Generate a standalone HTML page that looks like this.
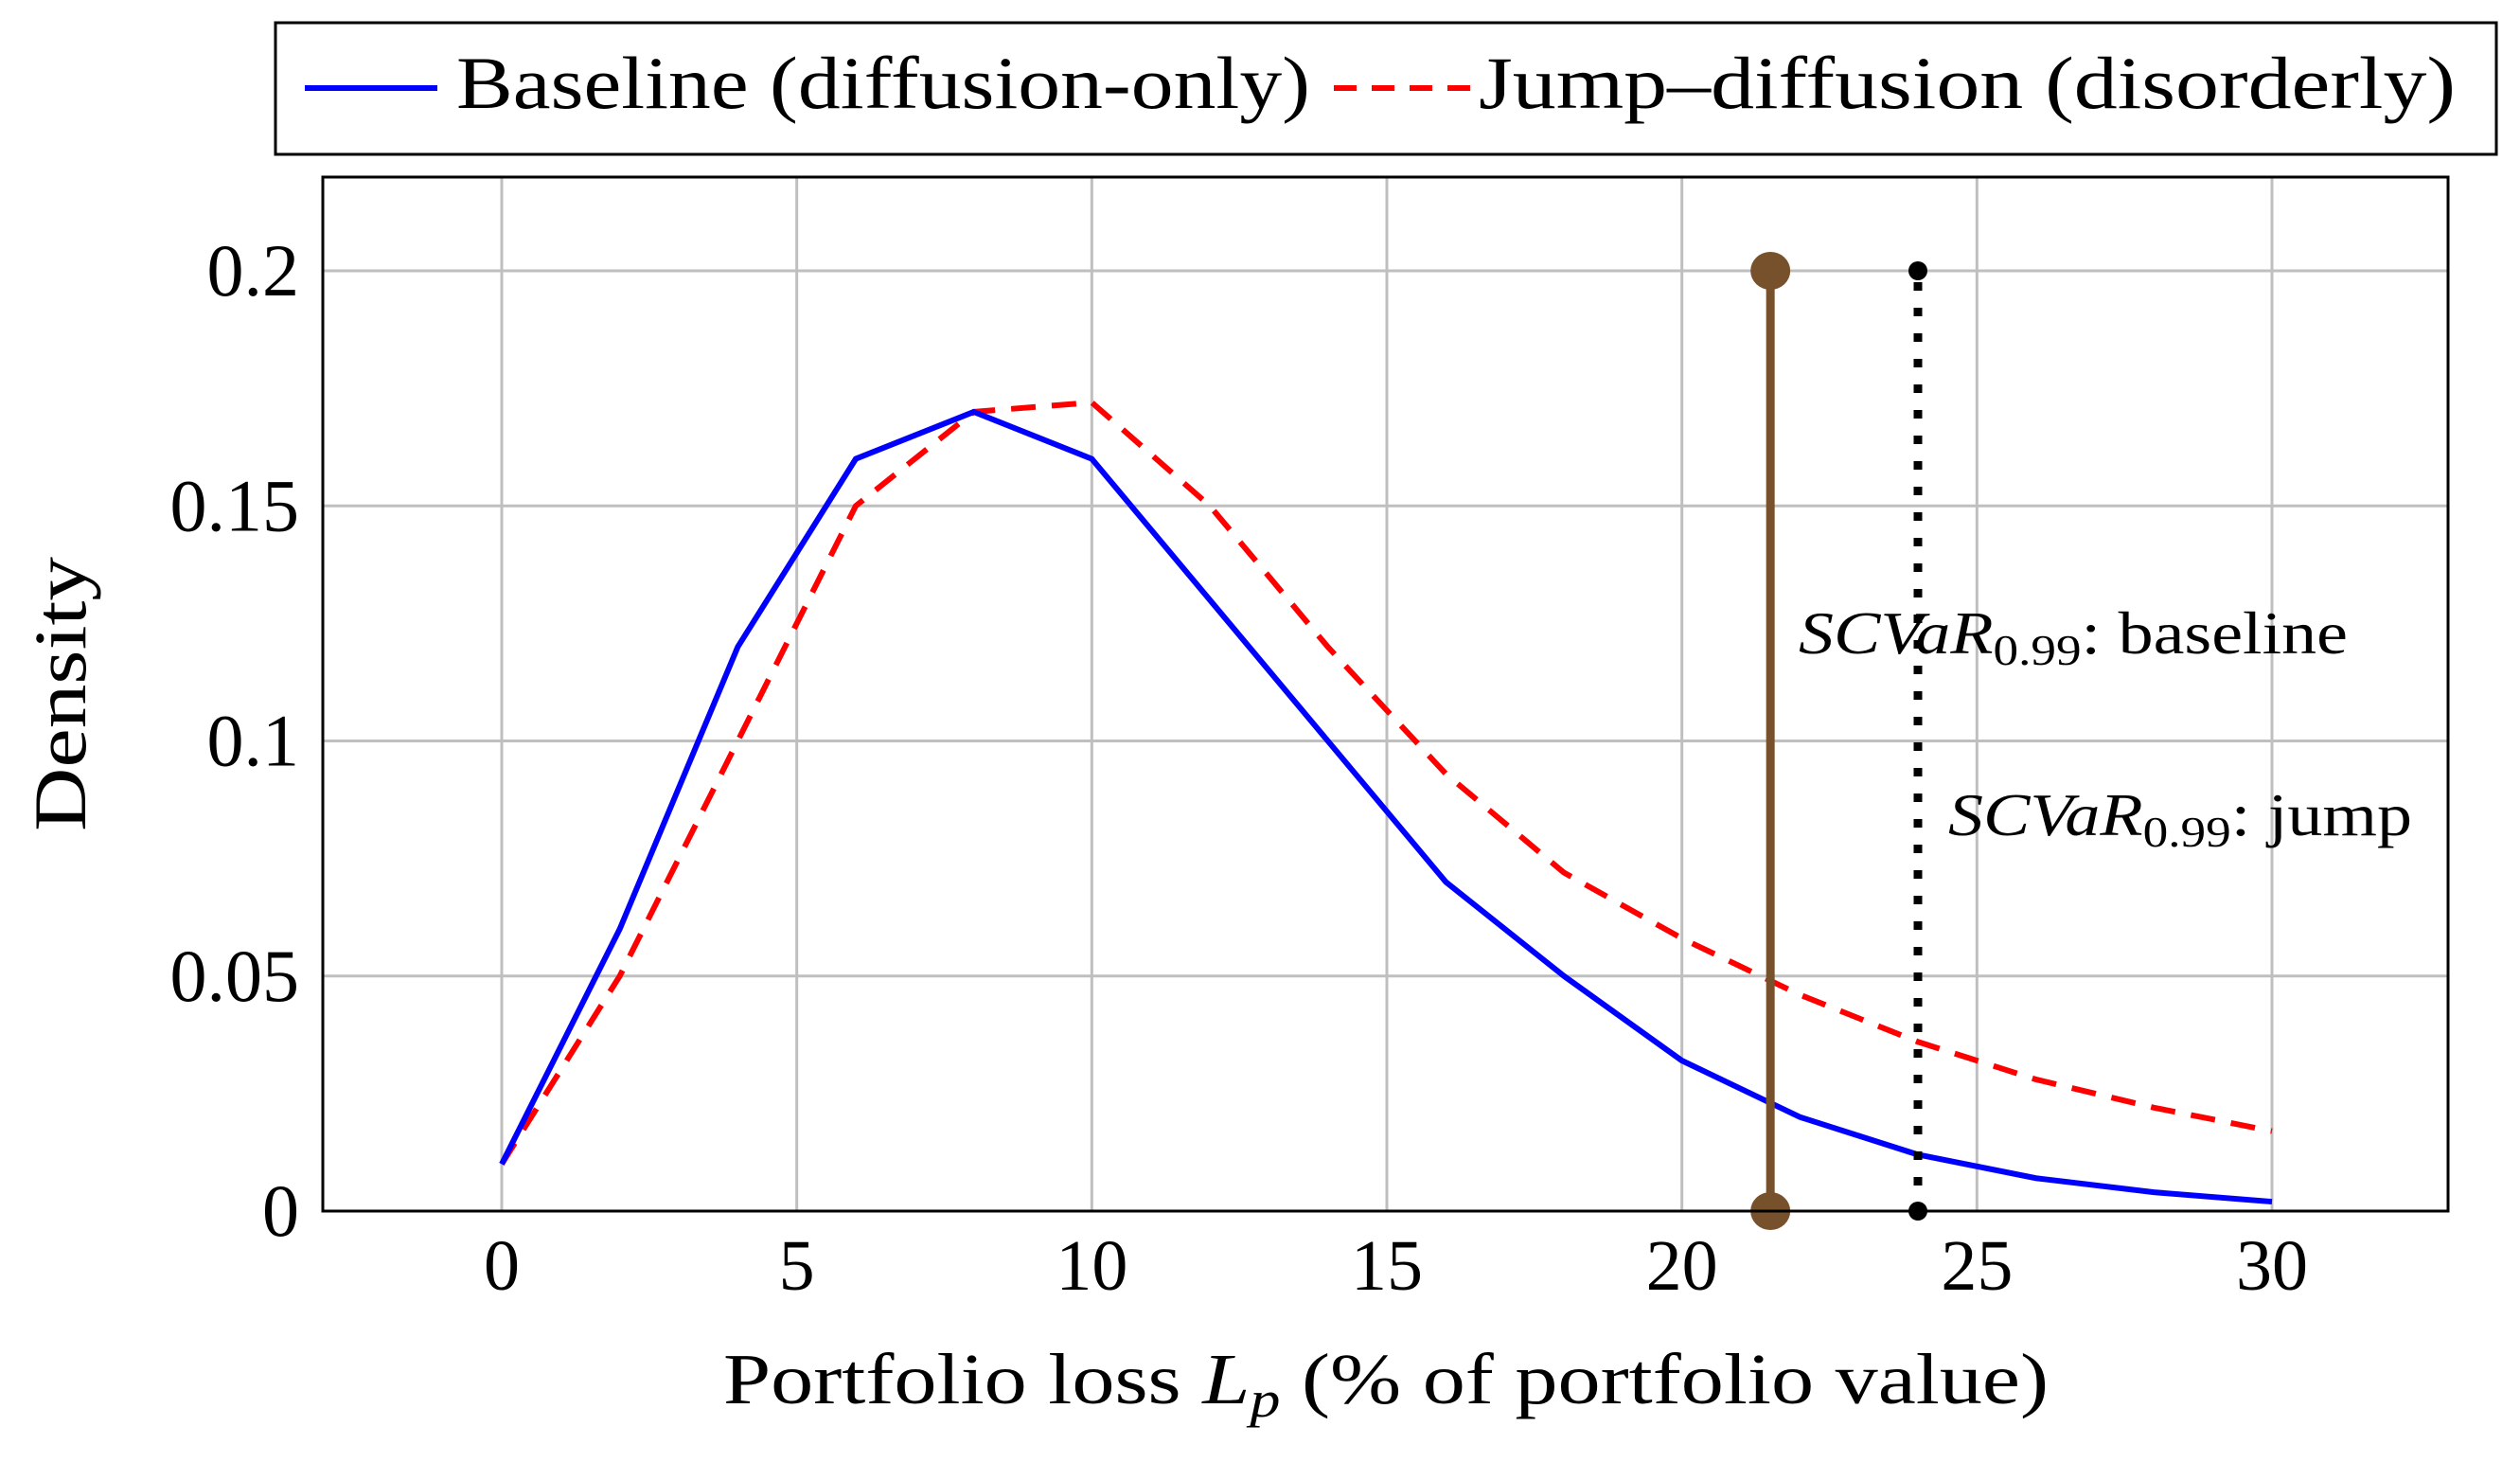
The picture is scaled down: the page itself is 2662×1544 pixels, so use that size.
<!DOCTYPE html>
<html><head><meta charset="utf-8">
<style>
html,body{margin:0;padding:0;background:#fff;}
svg text{font-family:"Liberation Serif",serif;fill:#000;}
</style></head>
<body>
<svg width="2662" height="1539" viewBox="0 0 2662 1539" xmlns="http://www.w3.org/2000/svg">
<g id="grid"></g>
<g id="series"></g>
<rect x="341" y="187" width="2245" height="1092" fill="none" stroke="#000" stroke-width="3"/>
<g id="ticks"></g>
<text x="764" y="1482" font-size="76" textLength="1400" lengthAdjust="spacingAndGlyphs">Portfolio loss <tspan font-style="italic">L</tspan><tspan font-style="italic" font-size="54" dy="14">p</tspan><tspan dy="-14"> (% of portfolio value)</tspan></text>
<text transform="translate(90,733) rotate(-90)" font-size="78" text-anchor="middle" textLength="290" lengthAdjust="spacingAndGlyphs">Density</text>
<text x="1900" y="690" font-size="64" textLength="580" lengthAdjust="spacingAndGlyphs"><tspan font-style="italic">SCVaR</tspan><tspan font-size="46" dy="12">0.99</tspan><tspan dy="-12">: baseline</tspan></text>
<text x="2058" y="882" font-size="64" textLength="490" lengthAdjust="spacingAndGlyphs"><tspan font-style="italic">SCVaR</tspan><tspan font-size="46" dy="12">0.99</tspan><tspan dy="-12">: jump</tspan></text>
<g>
<rect x="291" y="24" width="2346" height="139" fill="#fff" stroke="#000" stroke-width="3"/>
<line x1="322" y1="93" x2="462" y2="93" stroke="#0000ff" stroke-width="6"/>
<text x="482" y="114" font-size="78" textLength="902" lengthAdjust="spacingAndGlyphs">Baseline (diffusion-only)</text>
<line x1="1409" y1="93" x2="1553" y2="93" stroke="#ff0000" stroke-width="6" stroke-dasharray="24,16"/>
<text x="1562" y="114" font-size="78" textLength="1032" lengthAdjust="spacingAndGlyphs">Jump–diffusion (disorderly)</text>
</g>
</svg>
<script>
const xs = [0,2,4,6,8,10,12,14,16,18,20,22,24,26,28,30];
const baseline = [0.01,0.06,0.12,0.16,0.17,0.16,0.13,0.1,0.07,0.05,0.032,0.02,0.012,0.007,0.004,0.002];
const jump = [0.01,0.05,0.1,0.15,0.17,0.172,0.15,0.12,0.093,0.072,0.058,0.046,0.036,0.028,0.022,0.017];
const xTicks = [0,5,10,15,20,25,30];
const yTicks = [0,0.05,0.1,0.15,0.2];
const yTickLabels = ["0","0.05","0.1","0.15","0.2"];
const varBaseline = 21.5;
const varJump = 24;
const markerTop = 0.2;

const NS="http://www.w3.org/2000/svg";
function X(v){return 530+(v/30)*(2400-530);}
function Y(v){return 1279-(v/0.2)*(1279-286);}
function mk(tag,attrs,parent){const e=document.createElementNS(NS,tag);for(const k in attrs)e.setAttribute(k,attrs[k]);parent.appendChild(e);return e;}
const grid=document.getElementById('grid'),ser=document.getElementById('series'),tk=document.getElementById('ticks');
xTicks.forEach(t=>{
  const l=mk('line',{x1:X(t),x2:X(t),y1:187,y2:1279,stroke:'#bfbfbf','stroke-width':3},grid);
  
  
  const tx=mk('text',{x:X(t),y:1362,'font-size':76,'text-anchor':'middle'},tk);
  tx.textContent=t;
  
  
});
yTicks.forEach((t,i)=>{
  const l=mk('line',{x1:341,x2:2586,y1:Y(t),y2:Y(t),stroke:'#bfbfbf','stroke-width':3},grid);
  
  
  const tx=mk('text',{x:316,y:Y(t)+26,'font-size':78,'text-anchor':'end'},tk);
  tx.textContent=yTickLabels[i];
  
  
});
function pts(arr){return xs.map((x,i)=>X(x)+','+Y(arr[i])).join(' ');}
const pj=mk('polyline',{points:pts(jump),fill:'none',stroke:'#ff0000','stroke-width':6,'stroke-dasharray':'26,17'},ser);


const pb=mk('polyline',{points:pts(baseline),fill:'none',stroke:'#0000ff','stroke-width':6},ser);


const vb=mk('line',{x1:X(varBaseline),x2:X(varBaseline),y1:Y(0),y2:Y(markerTop),stroke:'#77512b','stroke-width':9},ser);


[0,markerTop].forEach(v=>{
  const c=mk('ellipse',{cx:X(varBaseline),cy:Y(v),rx:21,ry:20,fill:'#77512b'},ser);
  
  
});
const vj=mk('line',{x1:X(varJump),x2:X(varJump),y1:Y(0),y2:Y(markerTop),stroke:'#000','stroke-width':9,'stroke-dasharray':'9,18'},ser);


[0,markerTop].forEach(v=>{
  const c=mk('circle',{cx:X(varJump),cy:Y(v),r:10,fill:'#000'},ser);
  
  
});
</script>
</body></html>
